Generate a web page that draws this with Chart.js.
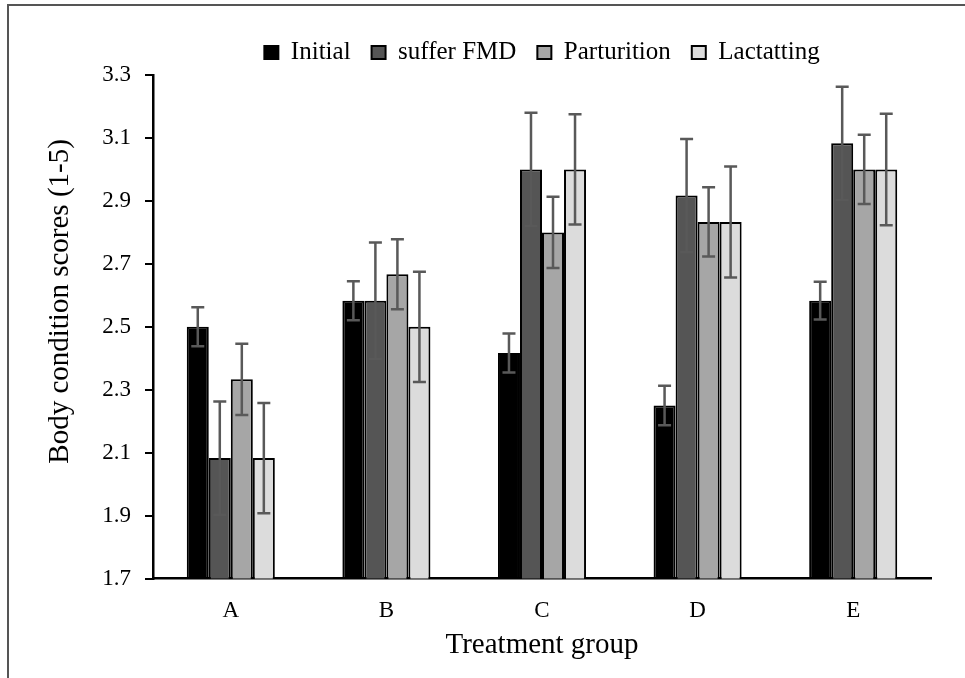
<!DOCTYPE html>
<html>
<head>
<meta charset="utf-8">
<script src="https://cdn.jsdelivr.net/npm/chart.js@4.4.0/dist/chart.umd.min.js"></script>
<style>
  html, body { margin: 0; padding: 0; background: #fff; }
  #wrap { position: relative; width: 965px; height: 678px; overflow: hidden; }
  #frame { position: absolute; left: 7px; top: 4px; right: -5px; bottom: -5px; border-top: 2px solid #555; border-left: 2px solid #555; pointer-events: none; }
  canvas { position: absolute; left: 0; top: 0; }
</style>
</head>
<body>
<div id="wrap">
  <canvas id="bcsChart" width="965" height="678"></canvas>
  <div id="frame"></div>
</div>
<script>
var groups = ['A', 'B', 'C', 'D', 'E'];
var yTicks = [1.7, 1.9, 2.1, 2.3, 2.5, 2.7, 2.9, 3.1, 3.3];

var initial     = [2.5, 2.583, 2.417, 2.25, 2.583];
var sufferFMD   = [2.083, 2.583, 3.0, 2.917, 3.083];
var parturition = [2.333, 2.667, 2.8, 2.833, 3.0];
var lactatting  = [2.083, 2.5, 3.0, 2.833, 3.0];

// +/- error (SE)
var initialErr     = [0.062, 0.062, 0.062, 0.063, 0.06];
var sufferFMDErr   = [0.18, 0.185, 0.18, 0.18, 0.18];
var parturitionErr = [0.113, 0.111, 0.113, 0.11, 0.11];
var lactattingErr  = [0.175, 0.175, 0.175, 0.176, 0.177];

var serif = 'Liberation Serif';

// whiskers on top of every bar
var errorBars = {
  id: 'errorBars',
  afterDatasetsDraw: function(chart) {
    var ctx = chart.ctx;
    var y = chart.scales.y;
    ctx.save();
    ctx.strokeStyle = '#595959';
    ctx.lineWidth = 2.5;
    chart.data.datasets.forEach(function(ds, i) {
      var meta = chart.getDatasetMeta(i);
      meta.data.forEach(function(bar, j) {
        var v = ds.data[j], e = ds.errors[j];
        var top = y.getPixelForValue(v + e);
        var bot = y.getPixelForValue(v - e);
        ctx.beginPath();
        ctx.moveTo(bar.x, top); ctx.lineTo(bar.x, bot);
        ctx.moveTo(bar.x - 6.5, top); ctx.lineTo(bar.x + 6.5, top);
        ctx.moveTo(bar.x - 6.5, bot); ctx.lineTo(bar.x + 6.5, bot);
        ctx.stroke();
      });
    });
    ctx.restore();
  }
};

function series(label, data, errs, fill) {
  return {
    label: label,
    data: data,
    errors: errs,
    backgroundColor: fill,
    borderColor: '#000',
    borderWidth: 2,
    barPercentage: 1,
    categoryPercentage: 0.566
  };
}

var ctx = document.getElementById('bcsChart').getContext('2d');
new Chart(ctx, {
  type: 'bar',
  data: {
    labels: groups,
    datasets: [
      series('Initial', initial, initialErr, '#000000'),
      series('suffer FMD', sufferFMD, sufferFMDErr, '#555555'),
      series('Parturition', parturition, parturitionErr, '#a6a6a6'),
      series('Lactatting', lactatting, lactattingErr, '#dcdcdc')
    ]
  },
  options: {
    responsive: false,
    animation: false,
    layout: { padding: { top: 19, left: 43, right: 34, bottom: 15 } },
    plugins: {
      legend: {
        position: 'top',
        fullSize: false,
        labels: {
          boxWidth: 14,
          boxHeight: 13,
          padding: 21,
          color: '#000',
          font: { family: serif, size: 25 }
        }
      },
      tooltip: { enabled: false }
    },
    scales: {
      x: {
        grid: { display: false, drawTicks: false },
        border: { color: '#000', width: 2.5 },
        ticks: { color: '#000', padding: 19, font: { family: serif, size: 23 } },
        title: {
          display: true,
          text: 'Treatment group',
          color: '#000',
          font: { family: serif, size: 29 },
          padding: { top: -16, bottom: 0 }
        }
      },
      y: {
        min: yTicks[0],
        max: yTicks[yTicks.length - 1],
        afterFit: function(scale) { scale.width = 110; },
        afterBuildTicks: function(scale) {
          scale.ticks = yTicks.map(function(v) { return { value: v }; });
        },
        grid: { drawOnChartArea: false, color: '#000', lineWidth: 2, tickLength: 8 },
        border: { color: '#000', width: 2.5 },
        ticks: {
          color: '#000',
          padding: 14,
          font: { family: serif, size: 23 },
          callback: function(v) { return Number(v).toFixed(1); }
        },
        title: {
          display: true,
          text: '       Body condition scores (1-5)',
          color: '#000',
          font: { family: serif, size: 29 },
          padding: 0
        }
      }
    }
  },
  plugins: [errorBars]
});
</script>
</body>
</html>
